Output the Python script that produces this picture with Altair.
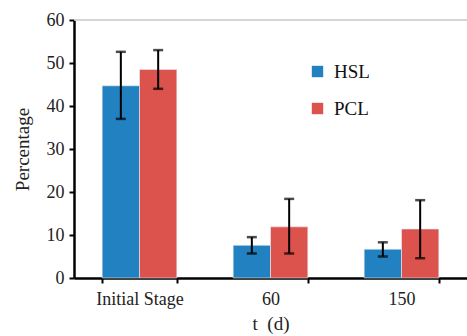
import altair as alt
import pandas as pd

stages = ["Initial Stage", "60", "150"]
groups = ["HSL", "PCL"]
hsl_mean = [44.7, 7.6, 6.7]
hsl_lo = [37.0, 5.7, 5.0]
hsl_hi = [52.6, 9.5, 8.3]
pcl_mean = [48.5, 11.9, 11.4]
pcl_lo = [44.0, 5.7, 4.6]
pcl_hi = [53.0, 18.4, 18.1]

rows = []
for i, s in enumerate(stages):
    rows.append({"stage": s, "group": "HSL", "mean": hsl_mean[i], "lo": hsl_lo[i], "hi": hsl_hi[i]})
    rows.append({"stage": s, "group": "PCL", "mean": pcl_mean[i], "lo": pcl_lo[i], "hi": pcl_hi[i]})
df = pd.DataFrame(rows)

FONT = "Liberation Serif"
xs = alt.X("stage:N", sort=stages, title="t\u00a0\u00a0(d)",
           scale=alt.Scale(paddingInner=0.43, paddingOuter=0.215),
           axis=alt.Axis(labelAngle=0, tickBand="extent", labelPadding=7, titlePadding=6))
ys = alt.Y("mean:Q", title="Percentage",
           scale=alt.Scale(domain=[0, 60], nice=False),
           axis=alt.Axis(values=[0, 10, 20, 30, 40, 50, 60], grid=False, labelPadding=5, titlePadding=14))
color = alt.Color("group:N", scale=alt.Scale(domain=groups, range=["#2281c1", "#dc524c"]),
                  legend=alt.Legend(title=None, orient="none", legendX=234, legendY=42))
xo = alt.XOffset("group:N", sort=groups)

bars = alt.Chart(df).mark_bar(stroke="#e8eef5", strokeWidth=0.6).encode(x=xs, y=ys, color=color, xOffset=xo)

top = alt.Chart(pd.DataFrame({"v": [60]})).mark_rule(color="#c8c8c8", strokeWidth=1.5).encode(y=alt.Y("v:Q"))

err = alt.Chart(df).mark_rule(color="black", strokeWidth=2).encode(
    x=alt.X("stage:N", sort=stages), xOffset=xo, y=alt.Y("lo:Q"), y2="hi:Q")
cap_hi = alt.Chart(df).mark_tick(color="black", thickness=2.5, size=10).encode(
    x=alt.X("stage:N", sort=stages), xOffset=xo, y=alt.Y("hi:Q"))
cap_lo = alt.Chart(df).mark_tick(color="black", thickness=2.5, size=10).encode(
    x=alt.X("stage:N", sort=stages), xOffset=xo, y=alt.Y("lo:Q"))

chart = alt.layer(bars, top, err, cap_hi, cap_lo).properties(
    width=393, height=258,
    autosize=alt.AutoSizeParams(type="none"),
    padding={"left": 74, "top": 20, "right": 0, "bottom": 58},
).configure_view(stroke=None).configure_axis(
    domainColor="black", domainWidth=2.5, tickColor="black", tickWidth=2, tickSize=5,
    labelFont=FONT, labelFontSize=18, labelColor="#222",
    titleFont=FONT, titleFontSize=19, titleFontWeight="normal", titleColor="#222",
).configure_legend(
    symbolType="square", symbolSize=130, symbolStrokeWidth=0,
    labelFont=FONT, labelFontSize=19, labelColor="#111", rowPadding=17, labelOffset=7,
)

chart.save("out.html", embed_options={"renderer": "svg", "actions": False})
